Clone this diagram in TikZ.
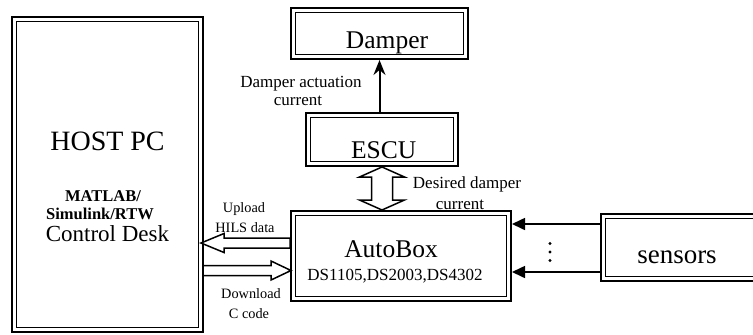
\documentclass[tikz,border=0pt]{standalone}
\usepackage{fontspec}
\setmainfont{Liberation Serif}
\usetikzlibrary{arrows.meta,calc}
\begin{document}
\begin{tikzpicture}[x=1bp,y=-1bp,
  dbox/.style={draw, line width=2bp, inner sep=0pt,
    path picture={\draw[line width=1.3bp]
      ([shift={(4.5bp,-4.5bp)}]path picture bounding box.north west) rectangle
      ([shift={(-4.5bp,4.5bp)}]path picture bounding box.south east);}},
  txt/.style={anchor=base, inner sep=0pt},
  big/.style={font=\fontsize{25.5bp}{28bp}\selectfont},
  lab/.style={font=\fontsize{17bp}{19bp}\selectfont},
  slab/.style={font=\fontsize{14.3bp}{16bp}\selectfont},
  hollow/.style={draw, line width=1.5bp, fill=white, line join=miter},
  sig/.style={draw, line width=2bp, -{Stealth[length=15bp,width=12bp,inset=5bp]}},
  sens/.style={draw, line width=1.6bp, -{Triangle[length=13bp,width=12bp]}}
]
\useasboundingbox (0,0) rectangle (753,334);
\clip (0,0) rectangle (753,334);

% boxes
\node[dbox, minimum width=191bp, minimum height=315bp] (host) at (107.5,174.5) {};
\node[dbox, minimum width=177bp, minimum height=51bp] (damper) at (379.5,33.5) {};
\node[dbox, minimum width=152bp, minimum height=53bp] (escu) at (382,139.5) {};
\node[dbox, minimum width=220bp, minimum height=90bp] (auto) at (401,256) {};
\node[dbox, minimum width=169bp, minimum height=67bp] (sensors) at (685.5,247.5) {};

% box texts
\node[txt, font=\fontsize{28bp}{30bp}\selectfont] (hostT) at (107.5,150) {HOST PC};
\node[txt, font=\bfseries\fontsize{16.5bp}{18bp}\selectfont] (matT) at (103,201) {MATLAB/};
\node[txt, font=\bfseries\fontsize{16.5bp}{18bp}\selectfont] (simT) at (100,219) {Simulink/RTW};
\node[txt, font=\fontsize{23bp}{25bp}\selectfont] (cdT) at (107.5,241) {Control Desk};
\node[txt, big] (damperT) at (387,48) {Damper};
\node[txt, big] (escuT) at (383.7,158) {ESCU};
\node[txt, big] (autoT) at (391,257) {AutoBox};
\node[txt, lab] (dsT) at (395,280) {DS1105,DS2003,DS4302};
\node[txt, font=\fontsize{27bp}{29bp}\selectfont] (sensT) at (677,263) {sensors};

% connector labels
\node[txt, lab] (l1a) at (301,87) {Damper actuation};
\node[txt, lab] (l1b) at (298,105) {current};
\node[txt, lab] (l2a) at (467,188) {Desired damper};
\node[txt, lab] (l2b) at (460,209) {current};
\node[txt, slab] (l3a) at (244,212) {Upload};
\node[txt, slab] (l3b) at (245,232) {HILS data};
\node[txt, slab] (l4a) at (251,298) {Download};
\node[txt, slab] (l4b) at (249,318) {C code};

% ESCU -> Damper
\draw[sig] (damper.south |- escu.north) -- (damper.south);

% ESCU <-> AutoBox hollow double arrow
\coordinate (T) at (escu.south);
\coordinate (B) at (escu.south |- auto.north);
\draw[hollow] (T) -- ($(T)+(22.5,10)$) -- ($(T)+(10.5,10)$) -- ($(B)+(10.5,-10)$)
  -- ($(B)+(22.5,-10)$) -- (B) -- ($(B)+(-22.5,-10)$) -- ($(B)+(-10.5,-10)$)
  -- ($(T)+(-10.5,10)$) -- ($(T)+(-22.5,10)$) -- cycle;

% Upload: AutoBox -> Host
\coordinate (UL) at ($(host.east |- 0,243)+(-3,0)$);
\coordinate (UR) at (auto.west |- 0,243);
\draw[hollow] (UL) -- ($(UL)+(23,-9.5)$) -- ($(UL)+(23,-5)$) -- ($(UR)+(0,-5)$)
  -- ($(UR)+(0,5)$) -- ($(UL)+(23,5)$) -- ($(UL)+(23,9.5)$) -- cycle;

% Download: Host -> AutoBox
\coordinate (DL) at ($(host.east |- 0,270.5)+(-1,0)$);
\coordinate (DR) at ($(auto.west |- 0,270.5)+(1,0)$);
\draw[hollow] ($(DL)+(0,-5)$) -- ($(DR)+(-20,-5)$) -- ($(DR)+(-20,-9.5)$) -- (DR)
  -- ($(DR)+(-20,9.5)$) -- ($(DR)+(-20,5)$) -- ($(DL)+(0,5)$) -- cycle;

% sensors -> AutoBox
\draw[sens] (sensors.west |- 0,224) -- (auto.east |- 0,224);
\draw[sens] (sensors.west |- 0,272) -- (auto.east |- 0,272);
\foreach \yy in {243.5,252,260.5} \fill (550,\yy) circle (1.6bp);

\end{tikzpicture}
\end{document}
